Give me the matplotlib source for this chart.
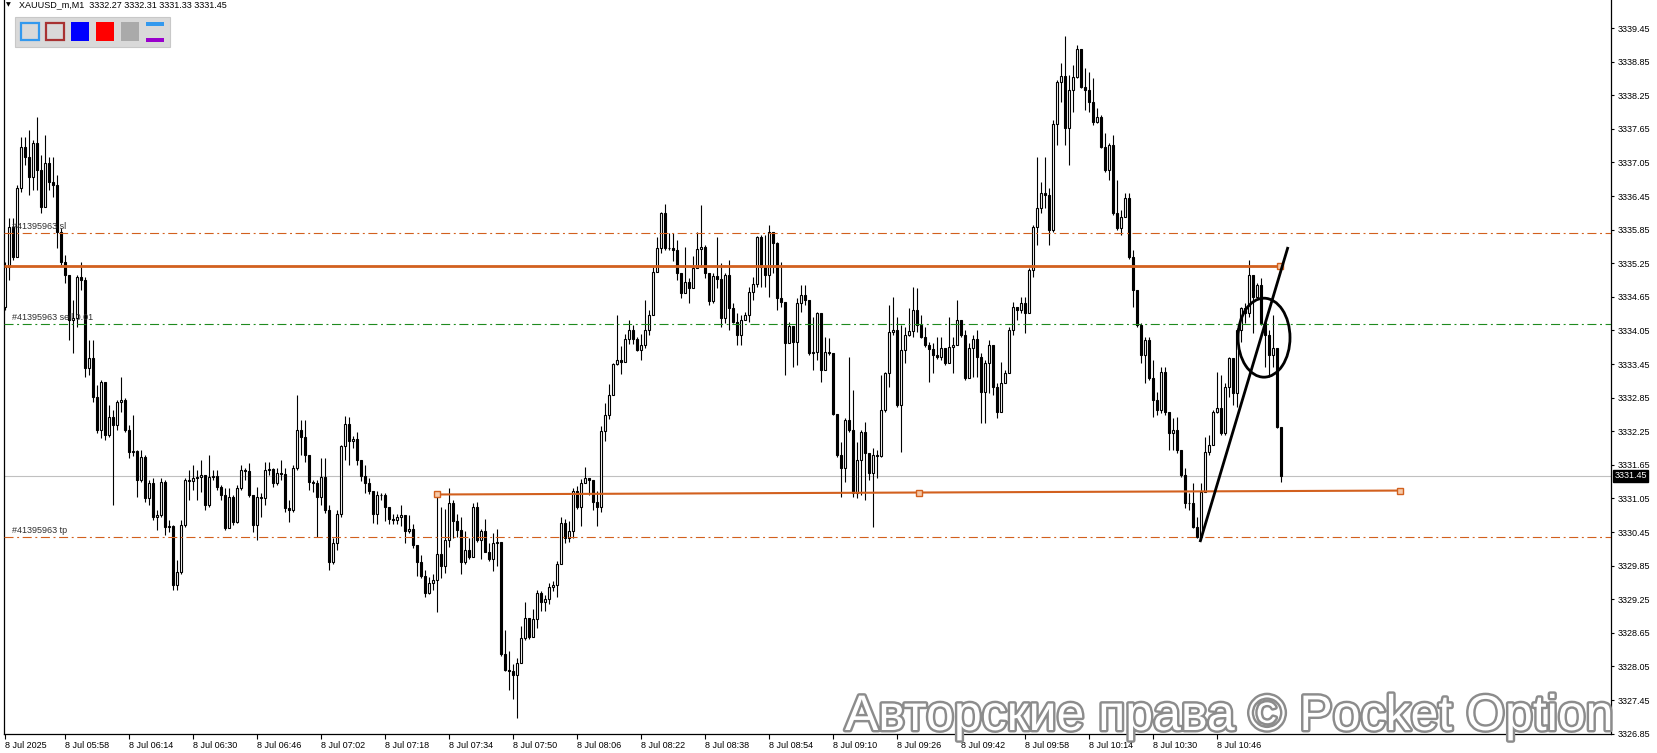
import numpy as np
import pandas as pd
import matplotlib
matplotlib.use('Agg')
import matplotlib.pyplot as plt
import matplotlib.transforms as mtransforms
import matplotlib.patheffects as pe
from matplotlib.patches import Ellipse, Rectangle

plt.rcParams['font.family'] = ['Liberation Sans', 'DejaVu Sans']
plt.rcParams['lines.scale_dashes'] = False

# XAUUSD_m M1, 8 Jul 2025, first bar 05:43
start_time = '2025-07-08 05:43'
first_open = 3334.47
close = [
    3335.18, 3335.90, 3335.36, 3336.59, 3337.33, 3337.15, 3336.79, 3337.40, 3336.91, 3336.25,
    3337.04, 3336.70, 3336.65, 3335.81, 3335.27, 3335.04, 3334.24, 3334.27, 3335.00, 3334.95,
    3333.38, 3333.56, 3332.86, 3332.27, 3333.13, 3332.18, 3332.50, 3332.36, 3332.77, 3332.81,
    3332.27, 3331.88, 3331.90, 3331.38, 3331.79, 3331.06, 3331.32, 3330.72, 3330.75, 3331.34,
    3330.54, 3330.56, 3329.50, 3329.74, 3330.57, 3331.38, 3331.36, 3331.41, 3331.43, 3331.47,
    3330.93, 3331.43, 3331.45, 3331.25, 3331.11, 3330.52, 3331.07, 3330.63, 3331.24, 3331.56,
    3331.54, 3331.11, 3330.57, 3331.07, 3331.06, 3331.56, 3331.57, 3331.32, 3331.50, 3331.49,
    3330.88, 3330.84, 3331.59, 3332.27, 3332.15, 3331.82, 3331.34, 3331.32, 3331.07, 3331.43,
    3330.84, 3329.91, 3330.25, 3330.77, 3331.99, 3332.38, 3332.07, 3332.11, 3331.74, 3331.45,
    3331.32, 3331.18, 3330.77, 3331.11, 3331.11, 3330.90, 3330.68, 3330.66, 3330.72, 3330.75,
    3330.47, 3330.50, 3330.22, 3329.91, 3329.66, 3329.36, 3329.54, 3329.59, 3330.06, 3329.84,
    3330.31, 3330.97, 3330.65, 3330.49, 3329.91, 3330.13, 3330.00, 3330.90, 3330.31, 3330.47,
    3330.09, 3329.97, 3330.25, 3330.27, 3328.27, 3327.99, 3327.97, 3327.90, 3328.11, 3328.56,
    3328.91, 3328.58, 3328.90, 3329.36, 3329.20, 3329.25, 3329.47, 3329.50, 3329.88, 3330.61,
    3330.34, 3330.47, 3331.18, 3330.90, 3331.32, 3331.41, 3331.38, 3330.99, 3330.90, 3332.25,
    3332.54, 3332.90, 3333.45, 3333.52, 3333.49, 3333.90, 3334.06, 3333.90, 3333.70, 3333.79,
    3334.06, 3334.32, 3335.09, 3335.52, 3336.15, 3335.52, 3335.52, 3335.49, 3335.07, 3334.72,
    3334.91, 3334.81, 3335.16, 3335.50, 3335.54, 3335.07, 3334.57, 3335.02, 3334.97, 3334.27,
    3335.04, 3334.45, 3334.20, 3333.97, 3334.24, 3334.32, 3334.74, 3334.88, 3335.72, 3335.18,
    3335.04, 3335.81, 3335.61, 3334.63, 3334.56, 3333.83, 3334.13, 3333.84, 3334.54, 3334.68,
    3334.59, 3333.65, 3333.66, 3334.36, 3333.34, 3333.66, 3333.65, 3332.56, 3331.82, 3331.59,
    3332.45, 3332.27, 3331.15, 3331.74, 3332.24, 3331.86, 3331.50, 3331.82, 3331.81, 3332.63,
    3333.29, 3334.02, 3334.06, 3332.72, 3333.70, 3333.97, 3334.04, 3334.41, 3334.15, 3333.93,
    3333.79, 3333.72, 3333.61, 3333.57, 3333.74, 3333.47, 3333.75, 3333.79, 3334.24, 3333.97,
    3333.20, 3333.74, 3333.90, 3333.57, 3332.95, 3333.47, 3333.79, 3333.04, 3332.59, 3333.11,
    3333.29, 3334.06, 3334.47, 3334.41, 3334.54, 3334.36, 3335.13, 3335.90, 3336.24, 3336.50,
    3336.47, 3335.84, 3337.74, 3338.49, 3338.59, 3337.66, 3338.34, 3338.57, 3339.07, 3338.40,
    3338.34, 3338.13, 3337.77, 3337.86, 3337.33, 3336.91, 3337.36, 3336.15, 3335.88, 3336.08,
    3336.41, 3335.36, 3334.77, 3334.15, 3333.61, 3333.88, 3333.20, 3332.81, 3332.63, 3333.31,
    3332.59, 3332.22, 3332.27, 3331.91, 3331.47, 3330.97, 3330.97, 3330.54, 3330.36, 3331.16,
    3331.88, 3332.00, 3332.59, 3332.66, 3332.22, 3333.04, 3333.56, 3332.93, 3334.06, 3334.45,
    3334.36, 3335.04, 3334.65, 3334.86, 3334.18, 3333.97, 3333.61, 3333.74, 3332.33, 3331.45,
]
high = [
    3335.27, 3336.06, 3336.06, 3336.65, 3337.50, 3337.50, 3337.63, 3337.45, 3337.86, 3337.18,
    3337.54, 3337.15, 3337.15, 3336.83, 3335.88, 3335.40, 3335.04, 3334.59, 3335.04, 3335.27,
    3335.00, 3333.88, 3333.88, 3333.07, 3333.16, 3333.13, 3332.72, 3332.63, 3332.81, 3333.22,
    3332.84, 3332.36, 3332.54, 3331.91, 3331.91, 3331.82, 3331.38, 3331.41, 3330.84, 3331.41,
    3331.38, 3330.66, 3330.57, 3329.95, 3330.66, 3331.41, 3331.56, 3331.65, 3331.56, 3331.74,
    3331.47, 3331.82, 3331.56, 3331.56, 3331.29, 3331.24, 3331.24, 3331.11, 3331.29, 3331.65,
    3331.59, 3331.68, 3331.11, 3331.25, 3331.15, 3331.70, 3331.70, 3331.59, 3331.59, 3331.74,
    3331.59, 3331.02, 3331.65, 3332.90, 3332.45, 3332.45, 3331.82, 3331.38, 3331.38, 3331.77,
    3331.77, 3330.93, 3330.34, 3330.84, 3332.00, 3332.52, 3332.50, 3332.16, 3332.24, 3331.74,
    3331.65, 3331.41, 3331.15, 3331.18, 3331.15, 3331.15, 3330.79, 3330.77, 3330.77, 3330.93,
    3330.68, 3330.75, 3330.59, 3330.22, 3330.04, 3329.77, 3329.65, 3329.70, 3331.11, 3330.90,
    3330.86, 3331.24, 3331.02, 3330.77, 3330.72, 3330.47, 3330.34, 3330.97, 3330.99, 3330.50,
    3330.68, 3330.25, 3330.43, 3330.50, 3330.22, 3328.70, 3328.32, 3328.09, 3328.20, 3328.77,
    3329.20, 3328.91, 3329.07, 3329.41, 3329.39, 3329.32, 3329.54, 3329.57, 3329.93, 3330.72,
    3330.68, 3330.65, 3331.24, 3331.27, 3331.40, 3331.61, 3331.41, 3331.24, 3331.18, 3332.34,
    3332.75, 3333.09, 3333.47, 3334.32, 3333.77, 3333.99, 3334.24, 3334.15, 3333.93, 3333.99,
    3334.59, 3334.41, 3335.18, 3335.72, 3336.16, 3336.31, 3335.79, 3335.79, 3335.66, 3334.99,
    3335.54, 3334.99, 3335.38, 3335.81, 3336.29, 3335.57, 3335.07, 3335.07, 3335.72, 3335.25,
    3335.07, 3335.31, 3334.54, 3334.36, 3334.32, 3334.38, 3334.82, 3335.00, 3335.74, 3335.75,
    3335.75, 3335.93, 3335.79, 3335.63, 3335.27, 3334.56, 3334.20, 3334.11, 3334.63, 3334.86,
    3334.86, 3334.59, 3334.29, 3334.38, 3334.20, 3333.93, 3333.91, 3333.34, 3332.45, 3332.06,
    3332.49, 3333.57, 3332.99, 3332.06, 3332.27, 3332.41, 3331.86, 3331.95, 3331.91, 3333.25,
    3333.31, 3334.50, 3334.65, 3334.29, 3334.15, 3334.11, 3334.45, 3334.82, 3334.81, 3334.32,
    3334.11, 3333.84, 3333.83, 3333.93, 3333.93, 3333.74, 3334.29, 3333.93, 3334.59, 3334.18,
    3334.06, 3333.83, 3333.97, 3334.06, 3333.65, 3333.52, 3333.88, 3333.79, 3333.11, 3333.49,
    3333.34, 3334.11, 3334.56, 3334.45, 3334.65, 3334.65, 3335.16, 3335.93, 3337.15, 3336.70,
    3337.15, 3336.59, 3337.81, 3338.52, 3338.82, 3339.31, 3338.61, 3338.79, 3339.15, 3339.02,
    3338.74, 3338.66, 3338.56, 3338.02, 3337.90, 3337.57, 3337.40, 3337.54, 3336.74, 3336.20,
    3336.50, 3336.50, 3335.49, 3334.74, 3334.18, 3333.93, 3333.93, 3333.52, 3332.95, 3333.40,
    3333.40, 3332.57, 3332.49, 3332.50, 3331.91, 3331.59, 3331.15, 3331.32, 3330.72, 3331.32,
    3332.15, 3332.18, 3332.63, 3333.31, 3333.25, 3333.11, 3333.57, 3333.43, 3334.09, 3334.47,
    3334.54, 3335.31, 3335.04, 3334.90, 3334.99, 3334.24, 3334.06, 3334.32, 3333.61, 3332.33,
]
low = [
    3334.41, 3334.95, 3335.31, 3335.40, 3336.52, 3337.00, 3336.47, 3336.56, 3336.56, 3336.15,
    3336.29, 3336.56, 3336.43, 3335.52, 3335.22, 3334.90, 3333.88, 3333.65, 3334.11, 3334.77,
    3333.22, 3333.25, 3332.77, 3332.22, 3332.13, 3332.09, 3332.15, 3330.93, 3332.27, 3332.59,
    3332.24, 3331.77, 3331.81, 3331.07, 3331.34, 3330.99, 3330.93, 3330.66, 3330.49, 3330.72,
    3330.40, 3330.45, 3329.41, 3329.41, 3329.70, 3330.54, 3331.02, 3331.20, 3331.02, 3331.16,
    3330.84, 3330.90, 3331.38, 3331.20, 3331.02, 3330.49, 3330.52, 3330.57, 3330.61, 3331.20,
    3331.38, 3331.07, 3330.45, 3330.31, 3330.72, 3330.93, 3331.47, 3331.25, 3331.29, 3331.38,
    3330.81, 3330.63, 3330.81, 3331.56, 3331.82, 3331.70, 3331.20, 3331.16, 3330.36, 3330.93,
    3330.79, 3329.77, 3329.88, 3330.13, 3330.72, 3331.74, 3331.65, 3331.95, 3331.65, 3331.36,
    3331.15, 3331.13, 3330.61, 3330.59, 3331.02, 3330.65, 3330.59, 3330.59, 3330.59, 3330.56,
    3330.25, 3330.43, 3330.16, 3329.66, 3329.63, 3329.29, 3329.34, 3329.41, 3329.02, 3329.63,
    3329.72, 3330.18, 3330.34, 3330.36, 3329.70, 3329.88, 3329.97, 3330.06, 3330.27, 3329.97,
    3330.09, 3329.93, 3329.75, 3329.84, 3328.24, 3327.97, 3327.63, 3327.47, 3327.13, 3328.11,
    3328.52, 3328.54, 3328.58, 3328.74, 3329.04, 3329.04, 3329.16, 3329.39, 3329.29, 3329.88,
    3330.25, 3330.27, 3330.34, 3330.86, 3330.56, 3331.32, 3331.11, 3330.84, 3330.56, 3330.81,
    3332.07, 3332.47, 3332.99, 3333.43, 3333.27, 3333.49, 3333.81, 3333.81, 3333.68, 3333.52,
    3333.74, 3333.97, 3334.38, 3335.18, 3335.43, 3335.49, 3335.49, 3335.29, 3334.95, 3334.63,
    3334.72, 3334.54, 3334.86, 3335.18, 3335.18, 3334.99, 3334.50, 3334.54, 3334.81, 3334.11,
    3334.18, 3334.06, 3334.18, 3333.79, 3333.79, 3334.27, 3334.20, 3334.59, 3334.82, 3334.82,
    3334.82, 3334.65, 3335.07, 3334.41, 3334.47, 3333.25, 3333.83, 3333.40, 3333.43, 3334.38,
    3334.50, 3333.61, 3333.34, 3333.52, 3333.13, 3333.52, 3333.61, 3332.54, 3331.79, 3331.07,
    3331.34, 3332.24, 3331.07, 3331.06, 3331.11, 3331.02, 3331.38, 3330.54, 3331.41, 3331.79,
    3332.59, 3333.04, 3333.97, 3332.68, 3331.88, 3333.47, 3333.95, 3333.93, 3334.02, 3333.91,
    3333.75, 3333.13, 3333.29, 3333.54, 3333.52, 3333.43, 3333.47, 3333.29, 3333.84, 3333.93,
    3333.16, 3333.20, 3333.22, 3333.22, 3332.40, 3332.40, 3332.93, 3332.90, 3332.49, 3332.77,
    3333.11, 3333.38, 3333.97, 3334.24, 3334.36, 3334.00, 3334.56, 3335.00, 3335.57, 3336.15,
    3336.24, 3335.57, 3335.81, 3337.36, 3338.13, 3337.36, 3337.00, 3337.95, 3338.56, 3338.38,
    3337.99, 3337.95, 3337.72, 3337.75, 3337.31, 3336.88, 3336.74, 3336.11, 3335.84, 3335.75,
    3336.08, 3335.33, 3334.47, 3334.11, 3333.47, 3333.11, 3333.16, 3332.50, 3332.54, 3332.57,
    3332.54, 3331.91, 3331.91, 3331.86, 3331.43, 3330.88, 3330.84, 3330.52, 3330.34, 3330.31,
    3331.20, 3331.82, 3332.04, 3332.57, 3332.18, 3332.18, 3332.86, 3332.72, 3332.68, 3333.84,
    3334.18, 3334.29, 3334.00, 3334.65, 3334.15, 3333.40, 3333.22, 3333.40, 3332.31, 3331.34,
]

header = 'XAUUSD_m,M1  3332.27 3332.31 3331.33 3331.45'
order_id = '#41395963'
sl_price = 3335.79
tp_price = 3330.36
entry_price = 3334.17
last_price = 3331.45
level_price = 3335.20
# trendline anchors (bar index, price)
support_line = [(108, 3331.12), (348.75, 3331.19)]
trend_line = [(298.75, 3330.27), (320.75, 3335.54)]
circle_center = (314.75, 3333.92)
price_ticks = np.round(np.arange(3326.85, 3339.50, 0.60), 2)

# ---- figure (pixel geometry of the MT4 window) ----
W, H = 1657, 753
fig = plt.figure(figsize=(W / 100, H / 100), dpi=100)
fig.patch.set_facecolor('white')
ax_l, ax_r, ax_b = 4, 1611, 734
ax = fig.add_axes([ax_l / W, (H - ax_b) / H, (ax_r - ax_l) / W, ax_b / H])
ax.set_facecolor('white')

n = len(close)
xs = np.arange(n)
cl = np.array(close)
op = np.array([first_open] + close[:-1])
times = pd.date_range(start_time, periods=n, freq='min')

ax.set_xlim(-0.25, 401.5)
ax.set_ylim(3339.95 - ax_b / 56, 3339.95)

# candles
ax.vlines(xs, low, high, color='black', lw=0.8, zorder=2)
up = cl >= op
ax.bar(xs[up], cl[up] - op[up], bottom=op[up], width=0.55, color='white',
       edgecolor='black', linewidth=0.8, zorder=3)
ax.bar(xs[~up], cl[~up] - op[~up], bottom=op[~up], width=0.55, color='black',
       edgecolor='black', linewidth=0.8, zorder=3)

orange = '#d2601e'
dashdot = (0, (6.5, 2.6, 1.4, 2.6))
ax.axhline(last_price, color='#c0c0c0', lw=0.8, zorder=1)
ax.axhline(sl_price, color=orange, lw=0.8, linestyle=dashdot, zorder=4)
ax.axhline(tp_price, color=orange, lw=0.8, linestyle=dashdot, zorder=4)
ax.axhline(entry_price, color='#1f8a1f', lw=0.8, linestyle=dashdot, zorder=4)

ax.plot([-0.25, 318.75], [level_price, level_price], color=orange, lw=2.0, zorder=4,
        solid_capstyle='butt')
ax.plot([318.75], [level_price], marker='s', ms=4, mfc='#f6c9a8', mec=orange, mew=1.0, zorder=5)

(sx0, sy0), (sx1, sy1) = support_line
ax.plot([sx0, sx1], [sy0, sy1], color=orange, lw=1.5, zorder=4)
ax.plot([sx0, (sx0 + sx1) / 2, sx1], [sy0, (sy0 + sy1) / 2, sy1], ls='none', marker='s',
        ms=4, mfc='#f6c9a8', mec=orange, mew=1.0, zorder=5)

(tx0, ty0), (tx1, ty1) = trend_line
ax.plot([tx0, tx1], [ty0, ty1], color='black', lw=2.0, zorder=5, solid_capstyle='butt')
ax.add_patch(Ellipse(circle_center, width=13, height=1.41, fill=False, ec='black', lw=2.0, zorder=5))

# order labels
blend = mtransforms.blended_transform_factory(ax.transAxes, ax.transData)
for lbl, p in [(order_id + ' sl', sl_price), (order_id + ' sell 0.01', entry_price),
               (order_id + ' tp', tp_price)]:
    ax.annotate(lbl, xy=(0, p), xycoords=blend, xytext=(6, 1.5), textcoords='offset points',
                fontsize=6.5, color='#303030', va='bottom', ha='left', zorder=6)

# price axis on the right
ax.yaxis.tick_right()
ax.set_yticks(price_ticks)
ax.set_yticklabels([f'{v:.2f}' for v in price_ticks])
ax.tick_params(axis='y', direction='out', length=2.5, width=0.8, pad=2.5, labelsize=6.5, colors='black')
ax.annotate(f'{last_price:.2f}', xy=(1, last_price), xycoords=blend, xytext=(2.5, 0),
            textcoords='offset points', fontsize=6.5, color='white', va='center', ha='left',
            bbox=dict(boxstyle='square,pad=0.15', fc='black', ec='black'), zorder=7,
            annotation_clip=False)

# time axis (labels every 16 bars, last one 10:46)
tick_pos = [0] + list(range(15, 304, 16))
tick_lbl = ['8 Jul 2025'] + [times[i].strftime('%-d %b %H:%M') for i in tick_pos[1:]]
ax.set_xticks(tick_pos)
ax.set_xticklabels(tick_lbl, ha='left')
ax.tick_params(axis='x', direction='out', length=3.5, width=0.8, pad=1.5, labelsize=6.5, colors='black')

for s in ['left', 'bottom', 'right']:
    ax.spines[s].set_color('black')
    ax.spines[s].set_linewidth(0.9)
ax.spines['top'].set_visible(False)
ax.grid(False)

# header and colour toolbar
def fx(px):
    return px / W

def fy(py):
    return 1 - py / H

fig.text(fx(6), fy(5), '\u25bc', fontsize=4.5, va='center', ha='left', family='DejaVu Sans')
fig.text(fx(19), fy(5), header, fontsize=6.5, va='center', ha='left')

def box(x0, y0, x1, y1, **kw):
    fig.add_artist(Rectangle((fx(x0), fy(y1)), fx(x1) - fx(x0), fy(y0) - fy(y1),
                             transform=fig.transFigure, **kw))

box(15, 17, 170, 47, fc='#d9d9d9', ec='#c8c8c8', lw=0.8)
box(21, 23, 39, 40, fc='#d9d9d9', ec='#3399ee', lw=1.6)
box(46, 23, 64, 40, fc='#d9d9d9', ec='#a83232', lw=1.6)
box(71, 22, 89, 41, fc='#0000ff', ec='none')
box(96, 22, 114, 41, fc='#ff0000', ec='none')
box(121, 22, 139, 41, fc='#aaaaaa', ec='none')
box(146, 22, 164, 26, fc='#3399ee', ec='none')
box(146, 38, 164, 42, fc='#9900cc', ec='none')

# watermark
fig.text(fx(845), fy(730), 'Авторские права © Pocket Option', fontsize=36, color='white',
         va='baseline', ha='left', zorder=20,
         path_effects=[pe.withStroke(linewidth=3.5, foreground='#8c8c8c')])

plt.savefig('out.png', dpi=100)
